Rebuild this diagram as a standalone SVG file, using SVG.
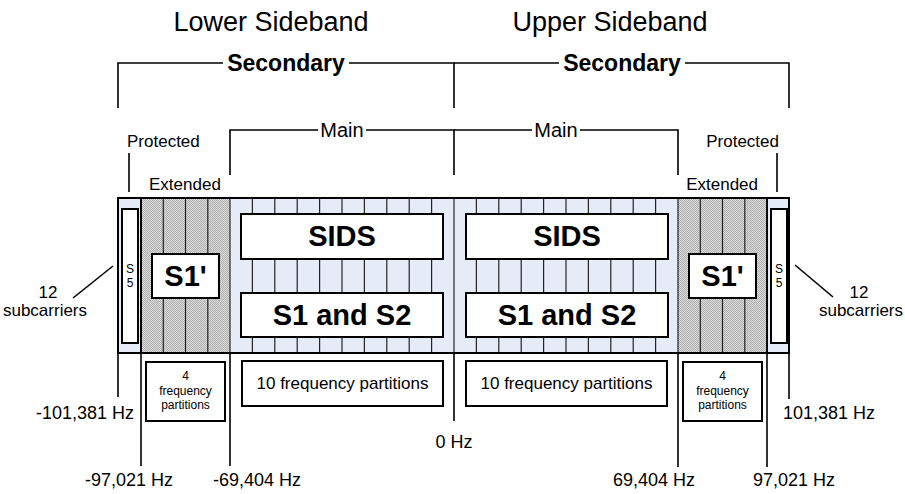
<svg xmlns="http://www.w3.org/2000/svg" width="905" height="494" viewBox="0 0 905 494">
  <style>
    text { font-family: "Liberation Sans", Arial, sans-serif; fill: #000; }
    .title { font-size: 27px; text-anchor: middle; }
    .sec { font-size: 23px; font-weight: bold; text-anchor: middle; }
    .main { font-size: 20px; text-anchor: middle; }
    .lab { font-size: 17px; }
    .hz { font-size: 18px; }
    .mid { text-anchor: middle; }
    .end { text-anchor: end; }
    .big { font-size: 29px; font-weight: bold; text-anchor: middle; }
    .s5 { font-size: 12px; text-anchor: middle; }
    .small { font-size: 12px; text-anchor: middle; }
    .part { font-size: 17px; text-anchor: middle; }
    .box { fill: #fff; stroke: #000; stroke-width: 2; }
    .line { fill: none; stroke: #000; stroke-width: 1.6; }
    .div { stroke: #222; stroke-width: 1.2; }
    .edge { stroke: #000; stroke-width: 2; }
  </style>
  <defs>
    <!-- fine dotted fill for the extended regions -->
    <pattern id="stipple" width="2" height="2" patternUnits="userSpaceOnUse">
      <rect width="2" height="2" fill="#dadada"/>
      <rect width="1" height="1" fill="#b0b0b0"/>
      <rect x="1" y="1" width="1" height="1" fill="#b0b0b0"/>
    </pattern>
  </defs>

  <rect width="905" height="494" fill="#fff"/>

  <!-- sideband titles -->
  <text class="title" x="271" y="31">Lower Sideband</text>
  <text class="title" x="610" y="31">Upper Sideband</text>

  <!-- band spectrum -->
  <g id="band">
    <rect x="118" y="198" width="671" height="155" fill="#e6ecf7"/>
    <rect x="141" y="198" width="89" height="155" fill="url(#stipple)"/>
    <rect x="678" y="198" width="89" height="155" fill="url(#stipple)"/>
    <!-- extended partitions -->
    <g class="div">
      <line x1="163.3" y1="198" x2="163.3" y2="353"/>
      <line x1="185.5" y1="198" x2="185.5" y2="353"/>
      <line x1="207.8" y1="198" x2="207.8" y2="353"/>
      <line x1="700.3" y1="198" x2="700.3" y2="353"/>
      <line x1="722.5" y1="198" x2="722.5" y2="353"/>
      <line x1="744.8" y1="198" x2="744.8" y2="353"/>
    </g>
    <!-- main partitions -->
    <g class="div" stroke-width="1">
      <line x1="252.4" y1="198" x2="252.4" y2="353"/>
      <line x1="274.8" y1="198" x2="274.8" y2="353"/>
      <line x1="297.2" y1="198" x2="297.2" y2="353"/>
      <line x1="319.6" y1="198" x2="319.6" y2="353"/>
      <line x1="342" y1="198" x2="342" y2="353"/>
      <line x1="364.4" y1="198" x2="364.4" y2="353"/>
      <line x1="386.8" y1="198" x2="386.8" y2="353"/>
      <line x1="409.2" y1="198" x2="409.2" y2="353"/>
      <line x1="431.6" y1="198" x2="431.6" y2="353"/>
      <line x1="476.4" y1="198" x2="476.4" y2="353"/>
      <line x1="498.8" y1="198" x2="498.8" y2="353"/>
      <line x1="521.2" y1="198" x2="521.2" y2="353"/>
      <line x1="543.6" y1="198" x2="543.6" y2="353"/>
      <line x1="566" y1="198" x2="566" y2="353"/>
      <line x1="588.4" y1="198" x2="588.4" y2="353"/>
      <line x1="610.8" y1="198" x2="610.8" y2="353"/>
      <line x1="633.2" y1="198" x2="633.2" y2="353"/>
      <line x1="655.6" y1="198" x2="655.6" y2="353"/>
    </g>
    <!-- region boundaries -->
    <line class="edge" x1="141" y1="198" x2="141" y2="353"/>
    <line class="edge" x1="767" y1="198" x2="767" y2="353"/>
    <line class="div" x1="230" y1="198" x2="230" y2="353"/>
    <line class="div" x1="678" y1="198" x2="678" y2="353"/>
    <line class="div" x1="454" y1="198" x2="454" y2="353"/>
    <rect x="118" y="198" width="671" height="155" fill="none" stroke="#000" stroke-width="2"/>
  </g>

  <g id="s5-lower">
    <rect class="box" x="122" y="209" width="16" height="134"/>
    <text class="s5" x="130" y="273">S</text>
    <text class="s5" x="130" y="287">5</text>
  </g>
  <g id="s5-upper">
    <rect class="box" x="771" y="209" width="16" height="134"/>
    <text class="s5" x="779" y="273">S</text>
    <text class="s5" x="779" y="287">5</text>
  </g>

  <g id="s1p-lower">
    <rect class="box" x="152" y="254" width="67" height="44"/>
    <text class="big" x="185.5" y="286">S1'</text>
  </g>
  <g id="s1p-upper">
    <rect class="box" x="689" y="254" width="67" height="44"/>
    <text class="big" x="722.5" y="286">S1'</text>
  </g>

  <g id="sids-lower">
    <rect class="box" x="241" y="214" width="202" height="45"/>
    <text class="big" x="342" y="246">SIDS</text>
  </g>
  <g id="sids-upper">
    <rect class="box" x="466" y="214" width="202" height="45"/>
    <text class="big" x="567" y="246">SIDS</text>
  </g>

  <g id="s1s2-lower">
    <rect class="box" x="241" y="293" width="202" height="44"/>
    <text class="big" x="342" y="325">S1 and S2</text>
  </g>
  <g id="s1s2-upper">
    <rect class="box" x="466" y="293" width="202" height="44"/>
    <text class="big" x="567" y="325">S1 and S2</text>
  </g>

  <g id="parts4-lower">
    <rect class="box" x="146" y="362" width="79" height="59"/>
    <text class="small" x="185.5" y="380">4</text>
    <text class="small" x="185.5" y="395">frequency</text>
    <text class="small" x="185.5" y="409">partitions</text>
  </g>
  <g id="parts4-upper">
    <rect class="box" x="683" y="362" width="79" height="59"/>
    <text class="small" x="722.5" y="380">4</text>
    <text class="small" x="722.5" y="395">frequency</text>
    <text class="small" x="722.5" y="409">partitions</text>
  </g>

  <g id="parts10-lower">
    <rect class="box" x="242" y="361" width="201" height="45"/>
    <text class="part" x="342.5" y="389">10 frequency partitions</text>
  </g>
  <g id="parts10-upper">
    <rect class="box" x="466" y="361" width="201" height="45"/>
    <text class="part" x="566.5" y="389">10 frequency partitions</text>
  </g>

  <!-- region labels -->
  <g id="labels">
    <text class="sec" x="286" y="71">Secondary</text>
    <text class="sec" x="622" y="71">Secondary</text>
    <text class="main" x="342" y="137">Main</text>
    <text class="main" x="556" y="137">Main</text>
    <text class="lab" x="127" y="147">Protected</text>
    <text class="lab end" x="779" y="147">Protected</text>
    <text class="lab" x="149" y="190">Extended</text>
    <text class="lab end" x="758" y="190">Extended</text>
    <text class="lab mid" x="48" y="298">12</text>
    <text class="lab mid" x="45" y="316">subcarriers</text>
    <text class="lab mid" x="859" y="298">12</text>
    <text class="lab mid" x="861" y="316">subcarriers</text>
  </g>

  <!-- frequency labels -->
  <g id="freqs">
    <text class="hz end" x="134" y="419">-101,381 Hz</text>
    <text class="hz mid" x="129" y="486">-97,021 Hz</text>
    <text class="hz mid" x="257" y="486">-69,404 Hz</text>
    <text class="hz mid" x="454" y="448">0 Hz</text>
    <text class="hz mid" x="654" y="486">69,404 Hz</text>
    <text class="hz mid" x="794" y="486">97,021 Hz</text>
    <text class="hz" x="783" y="419">101,381 Hz</text>
  </g>

  <!-- brackets, pointers and frequency ticks -->
  <g id="connectors" class="line">
    <path d="M118,108 V63 H223 M349,63 H454 V108"/>
    <path d="M454,63 H559 M685,63 H789 V108"/>
    <path d="M230,175 V130 H318 M366,130 H454 V175"/>
    <path d="M454,130 H532 M580,130 H678 V175"/>
    <line x1="129" y1="153" x2="129" y2="192"/>
    <line x1="777" y1="153" x2="777" y2="192"/>
    <line x1="73" y1="298" x2="113" y2="266"/>
    <line x1="795" y1="265" x2="833" y2="297"/>
    <line x1="118" y1="353" x2="118" y2="397"/>
    <line x1="141" y1="353" x2="141" y2="466"/>
    <line x1="230" y1="353" x2="230" y2="466"/>
    <line x1="454" y1="353" x2="454" y2="421"/>
    <line x1="678" y1="353" x2="678" y2="467"/>
    <line x1="767" y1="353" x2="767" y2="467"/>
    <line x1="789" y1="353" x2="789" y2="399"/>
  </g>
</svg>
